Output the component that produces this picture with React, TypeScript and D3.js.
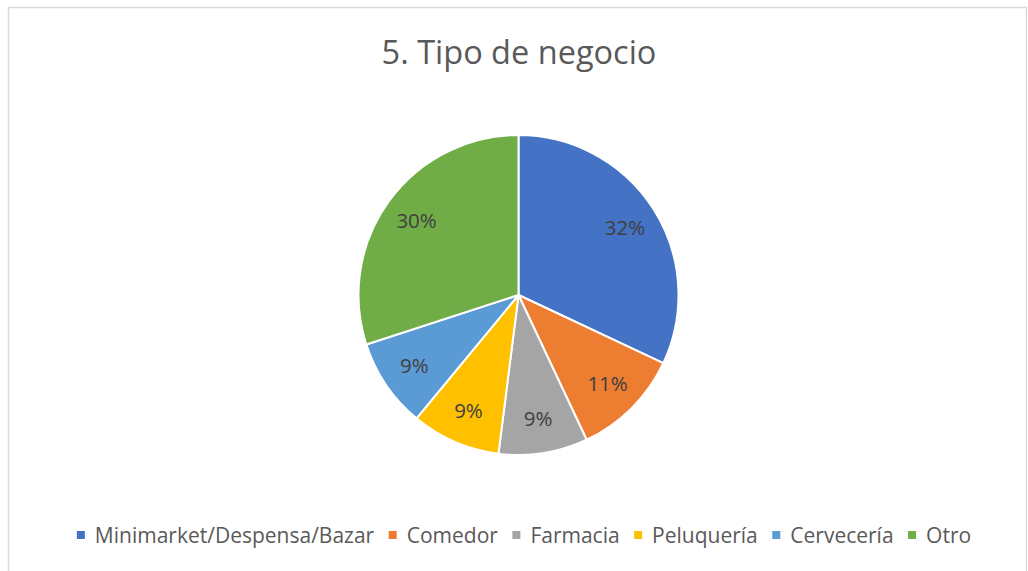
import React, { useEffect, useRef } from "react";
import * as d3 from "d3";

const categories = ["Minimarket/Despensa/Bazar", "Comedor", "Farmacia", "Peluquería", "Cervecería", "Otro"];
const values = [32, 11, 9, 9, 9, 30];
const colors = ["#4472C4", "#ED7D31", "#A5A5A5", "#FFC000", "#5B9BD5", "#70AD47"];
const title = "5. Tipo de negocio";

const W = 1028;
const H = 571;
const FONT = "'Open Sans', sans-serif";

export default function App() {
  const ref = useRef<SVGSVGElement>(null);

  useEffect(() => {
    const svg = d3.select(ref.current);
    svg.selectAll("*").remove();

    svg.append("rect")
      .attr("x", 8.5).attr("y", 7.5)
      .attr("width", 1018).attr("height", 620)
      .attr("fill", "#fff").attr("stroke", "#d9d9d9").attr("stroke-width", 1.5);

    svg.append("text")
      .attr("x", 519).attr("y", 64)
      .attr("text-anchor", "middle")
      .attr("font-family", FONT).attr("font-size", 32.5)
      .attr("fill", "#595959")
      .text(title);

    const cx = 518.5, cy = 295, r = 160;
    const pie = d3.pie<number>().sort(null).value((d) => d);
    const arcs = pie(values);
    const arc = d3.arc<d3.PieArcDatum<number>>().innerRadius(0).outerRadius(r);
    const labelArc = d3.arc<d3.PieArcDatum<number>>().innerRadius(126).outerRadius(126);
    const total = d3.sum(values);

    const g = svg.append("g").attr("transform", `translate(${cx},${cy})`);
    g.selectAll("path").data(arcs).enter().append("path")
      .attr("d", arc)
      .attr("fill", (_, i) => colors[i])
      .attr("stroke", "#fff").attr("stroke-width", 2).attr("stroke-linejoin", "round");

    g.selectAll("text.lbl").data(arcs).enter().append("text")
      .attr("class", "lbl")
      .attr("x", (d) => labelArc.centroid(d)[0])
      .attr("y", (d) => labelArc.centroid(d)[1] - 1)
      .attr("text-anchor", "middle").attr("dominant-baseline", "central")
      .attr("font-family", FONT).attr("font-size", 20.5)
      .attr("fill", "#404040")
      .text((d) => `${Math.round((d.value / total) * 100)}%`);

    // legend
    const lg = svg.append("g");
    const ly = 535;
    const items = lg.selectAll("g.item").data(categories).enter().append("g").attr("class", "item");
    items.append("rect")
      .attr("width", 8).attr("height", 8)
      .attr("y", ly - 4)
      .attr("fill", (_, i) => colors[i]);
    const texts = items.append("text")
      .attr("y", ly).attr("dominant-baseline", "central")
      .attr("font-family", FONT).attr("font-size", 21)
      .attr("fill", "#595959")
      .text((d) => d);
    const widths: number[] = [];
    texts.each(function () { widths.push((this as SVGTextElement).getComputedTextLength()); });
    const markerW = 8, gap1 = 10, gap2 = 14.5;
    const totalW = d3.sum(widths) + categories.length * (markerW + gap1) + (categories.length - 1) * gap2;
    let x = 524 - totalW / 2;
    items.each(function (_, i) {
      const it = d3.select(this);
      it.select("rect").attr("x", x);
      it.select("text").attr("x", x + markerW + gap1);
      x += markerW + gap1 + widths[i] + gap2;
    });
  }, []);

  return (
    <svg ref={ref} width={W} height={H} style={{ position: "absolute", left: 0, top: 0, background: "#fff" }} />
  );
}
